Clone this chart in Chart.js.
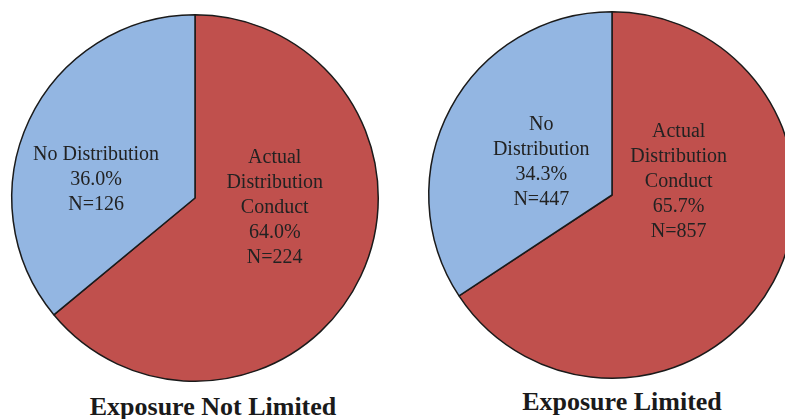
<!DOCTYPE html>
<html>
<head>
<meta charset="utf-8">
<script src="https://cdn.jsdelivr.net/npm/chart.js@4/dist/chart.umd.min.js"></script>
<style>
  html, body { margin: 0; padding: 0; background: #fff; }
  body { width: 785px; height: 419px; position: relative; overflow: hidden; }
  .pie { position: absolute; }
  .title {
    position: absolute;
    font-family: "Liberation Serif", "Times New Roman", serif;
    font-weight: bold;
    font-size: 26px;
    color: #1a1a1a;
    white-space: nowrap;
    transform: translateX(-50%);
    line-height: 1;
  }
</style>
</head>
<body>
<canvas id="pie-left" class="pie" width="380" height="380" style="left:5px;top:8px;"></canvas>
<canvas id="pie-right" class="pie" width="380" height="380" style="left:422px;top:5px;"></canvas>
<div class="title" style="left:213px;top:394px;">Exposure Not Limited</div>
<div class="title" style="left:622px;top:389px;">Exposure Limited</div>

<script>
// categories, in drawing order (clockwise from 12 o'clock)
const categories = ['Actual Distribution Conduct', 'No Distribution'];
const sliceColors = ['#C0504D', '#93B6E2'];

// counts per group
const notLimitedCounts = [224, 126];
const limitedCounts = [857, 447];

// how each label breaks into lines
const notLimitedLabelLines = [['Actual', 'Distribution', 'Conduct'], ['No Distribution']];
const limitedLabelLines = [['Actual', 'Distribution', 'Conduct'], ['No', 'Distribution']];

// label block centres, as fraction of radius from the pie centre
const notLimitedLabelPos = [[0.435, 0.052], [-0.54, -0.098]];
const limitedLabelPos = [[0.364, -0.071], [-0.386, -0.179]];

const sliceLabels = {
  id: 'sliceLabels',
  afterDatasetsDraw(chart, args, opts) {
    const ctx = chart.ctx;
    const meta = chart.getDatasetMeta(0);
    const data = chart.data.datasets[0].data;
    const total = data.reduce((a, b) => a + b, 0);
    ctx.save();
    ctx.font = '20px "Liberation Serif", "Times New Roman", serif';
    ctx.fillStyle = '#222';
    ctx.textAlign = 'center';
    ctx.textBaseline = 'middle';
    meta.data.forEach((arc, i) => {
      const lines = opts.lines[i].concat([
        (data[i] / total * 100).toFixed(1) + '%',
        'N=' + data[i]
      ]);
      const cx = arc.x + opts.pos[i][0] * arc.outerRadius;
      const cy = arc.y + opts.pos[i][1] * arc.outerRadius;
      const lh = 25;
      const top = cy - (lines.length - 1) * lh / 2;
      lines.forEach((t, k) => ctx.fillText(t, cx, top + k * lh));
    });
    ctx.restore();
  }
};

function makePie(id, counts, lines, pos) {
  return new Chart(document.getElementById(id), {
    type: 'pie',
    data: {
      labels: categories,
      datasets: [{
        data: counts,
        backgroundColor: sliceColors,
        borderColor: '#1a1a1a',
        borderWidth: 1.5
      }]
    },
    options: {
      responsive: false,
      animation: false,
      layout: { padding: 6 },
      plugins: {
        legend: { display: false },
        tooltip: { enabled: false },
        title: { display: false },
        sliceLabels: { lines: lines, pos: pos }
      }
    },
    plugins: [sliceLabels]
  });
}

makePie('pie-left', notLimitedCounts, notLimitedLabelLines, notLimitedLabelPos);
makePie('pie-right', limitedCounts, limitedLabelLines, limitedLabelPos);
</script>
</body>
</html>
